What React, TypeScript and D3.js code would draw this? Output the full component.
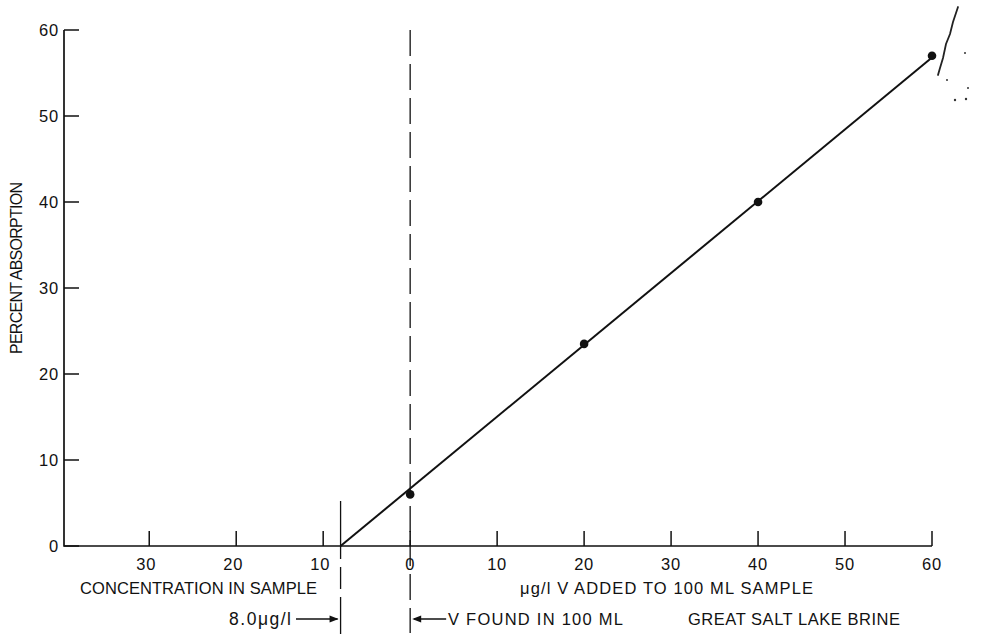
import React from "react";
import * as d3 from "d3";

// Standard-addition calibration for vanadium in Great Salt Lake brine
const addedUg: number[] = [0, 20, 40, 60];
const absorption: number[] = [6.0, 23.5, 40.0, 57.0];

// fitted calibration line: x-intercept gives the concentration in the sample
const fitX: number[] = [-8.0, 60];
const fitY: number[] = [0, 56.8];

const yTicks: number[] = [0, 10, 20, 30, 40, 50, 60];
const xTicksLeft: number[] = [-30, -20, -10];
const xTicksRight: number[] = [0, 10, 20, 30, 40, 50, 60];

const foundConc = -8.0;

const W = 1001;
const H = 636;
const FONT = "'Liberation Sans', Arial, Helvetica, sans-serif";

export default function App() {
  const x = d3.scaleLinear().domain([-39.8, 60]).range([64, 932]);
  const y = d3.scaleLinear().domain([0, 60]).range([546, 30]);

  const line = d3
    .line<number>()
    .x((_, i) => x(fitX[i]))
    .y((_, i) => y(fitY[i]));

  const x0 = x(0);
  const xf = x(foundConc);
  const y0 = y(0);

  const tickLen = 15;
  const row1 = y0 + 18;
  const row2 = y0 + 42;
  const row3 = y0 + 73;
  const fs = 16.5;

  return (
    <svg
      width={W}
      height={H}
      viewBox={`0 0 ${W} ${H}`}
      style={{ position: "absolute", left: 0, top: 0, background: "#fff" }}
      fontFamily={FONT}
    >
      {/* axes */}
      <path
        d={`M${x.range()[0]},${y(60)} V${y0} H${x(60)}`}
        fill="none"
        stroke="#111"
        strokeWidth={1.7}
      />

      {/* y ticks */}
      {yTicks.map((t) => (
        <g key={`y${t}`}>
          <line x1={x.range()[0]} x2={x.range()[0] + tickLen} y1={y(t)} y2={y(t)} stroke="#111" strokeWidth={1.5} />
          <text x={59} y={y(t)} dy="0.35em" textAnchor="end" fontSize={fs} letterSpacing={0.8} fill="#111">
            {t}
          </text>
        </g>
      ))}

      {/* x ticks, left half (concentration in sample) */}
      {xTicksLeft.map((t) => (
        <g key={`xl${t}`}>
          <line x1={x(t)} x2={x(t)} y1={y0} y2={y0 - tickLen} stroke="#111" strokeWidth={1.5} />
          <text x={x(t) - 3} y={row1} dy="0.35em" textAnchor="middle" fontSize={fs} letterSpacing={0.8} fill="#111">
            {Math.abs(t)}
          </text>
        </g>
      ))}

      {/* x ticks, right half (amount added) */}
      {xTicksRight.map((t) => (
        <g key={`xr${t}`}>
          <line x1={x(t)} x2={x(t)} y1={y0} y2={y0 - tickLen} stroke="#111" strokeWidth={1.5} />
          <text x={x(t)} y={row1} dy="0.35em" textAnchor="middle" fontSize={fs} letterSpacing={0.8} fill="#111">
            {t}
          </text>
        </g>
      ))}

      {/* dashed reference at zero addition */}
      <line x1={x0} x2={x0} y1={y(60)} y2={row3 + 14} stroke="#111" strokeWidth={1.3} strokeDasharray="26,8" />
      {/* dashed marker at the extrapolated concentration */}
      <line x1={xf} x2={xf} y1={y0 - 45} y2={row3 + 15} stroke="#111" strokeWidth={1.3} strokeDasharray="58,8,22,8" />

      {/* calibration line */}
      <path d={line(fitX) ?? ""} fill="none" stroke="#111" strokeWidth={2} />

      {/* measured points */}
      {addedUg.map((v, i) => (
        <circle key={`p${v}`} cx={x(v)} cy={y(absorption[i])} r={4.3} fill="#111" />
      ))}

      {/* axis titles */}
      <text
        transform={`translate(22,268) rotate(-90)`}
        textAnchor="middle"
        fontSize={16}
        textLength={172}
        lengthAdjust="spacing"
        fill="#111"
      >
        PERCENT ABSORPTION
      </text>
      <text x={80} y={row2} dy="0.35em" fontSize={fs} textLength={237} lengthAdjust="spacing" fill="#111">
        CONCENTRATION IN SAMPLE
      </text>
      <text x={520} y={row2} dy="0.35em" fontSize={fs} textLength={293} lengthAdjust="spacing" fill="#111">
        μg/l V ADDED TO 100 ML SAMPLE
      </text>

      {/* bottom annotations */}
      <text x={229} y={row3} dy="0.35em" fontSize={17.5} textLength={62} lengthAdjust="spacing" fill="#111">
        8.0μg/l
      </text>
      <line x1={296} x2={xf - 3} y1={row3} y2={row3} stroke="#111" strokeWidth={1.3} />
      <path d={`M${xf - 2},${row3} l-9,-3.5 v7 z`} fill="#111" />

      <path d={`M${x0 + 2},${row3} l9,-3.5 v7 z`} fill="#111" />
      <line x1={x0 + 4} x2={x0 + 36} y1={row3} y2={row3} stroke="#111" strokeWidth={1.3} />
      <text x={448} y={row3} dy="0.35em" fontSize={fs} textLength={175} lengthAdjust="spacing" fill="#111">
        V FOUND IN 100 ML
      </text>
      <text x={688} y={row3} dy="0.35em" fontSize={fs} textLength={212} lengthAdjust="spacing" fill="#111">
        GREAT SALT LAKE BRINE
      </text>

      {/* pencil stroke in the top-right margin */}
      <path
        d="M958,7 L953,22 L950,34 L946,44 L943,58 L940,68 L938,75"
        fill="none"
        stroke="#222"
        strokeWidth={1.8}
        strokeLinecap="round"
      />
      <circle cx={947} cy={80} r={1} fill="#333" />
      <circle cx={965} cy={53} r={1} fill="#333" />
      <circle cx={968} cy={88} r={1} fill="#333" />
      <circle cx={966} cy={99} r={1.2} fill="#333" />
      <circle cx={955} cy={100} r={1.2} fill="#333" />
    </svg>
  );
}
